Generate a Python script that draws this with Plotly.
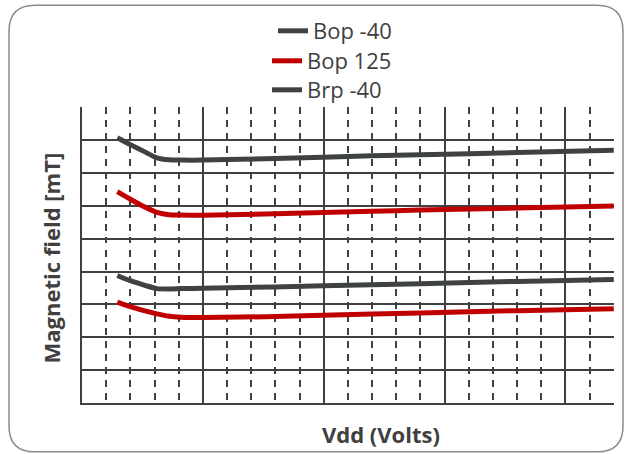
import plotly.graph_objects as go

# ---- data ----
vdd = [1.46, 2.0, 2.6, 3.1, 3.6, 4.1, 5.0, 8.0, 12.0, 14.0, 18.0, 22.0]
bop_m40 = [8.07, 7.86, 7.64, 7.46, 7.40, 7.39, 7.39, 7.44, 7.52, 7.55, 7.62, 7.69]
bop_125 = [6.43, 6.20, 5.96, 5.80, 5.73, 5.72, 5.71, 5.76, 5.83, 5.87, 5.93, 5.99]
brp_m40 = [3.88, 3.72, 3.58, 3.48, 3.47, 3.48, 3.49, 3.53, 3.60, 3.63, 3.70, 3.76]
brp_125 = [3.07, 2.93, 2.80, 2.71, 2.64, 2.61, 2.60, 2.63, 2.71, 2.74, 2.81, 2.87]

series_names = ["Bop -40", "Bop 125", "Brp -40", "Brp 125"]
series_values = [bop_m40, bop_125, brp_m40, brp_125]
series_colors = ["#3f4244", "#c00000", "#3f4244", "#c00000"]
series_legend = ["legend", "legend2", "legend3", None]

x_title = "Vdd (Volts)"
y_title = "Magnetic field [mT]"

# ---- figure ----
W, H = 625, 454
ML, MR, MT, MB = 82, 11, 106, 51
PW, PH = W - ML - MR, H - MT - MB

fig = go.Figure()
for name, vals, col, leg in zip(series_names, series_values, series_colors, series_legend):
    kw = dict(showlegend=False) if leg is None else dict(showlegend=True, legend=leg)
    fig.add_trace(go.Scatter(
        x=vdd, y=vals, name=name, mode="lines",
        line=dict(color=col, width=5, shape="spline", smoothing=0.6), **kw,
    ))

grid_col = "#404040"
text_col = "#404040"


def px(xp):
    return (xp - ML) / PW


def py(yp):
    return (H - MB - yp) / PH


def legend_at(left, top):
    return dict(
        x=px(left), y=py(top), xanchor="left", yanchor="top",
        bgcolor="rgba(0,0,0,0)", font=dict(size=22, color=text_col),
        itemwidth=30,
    )


# rounded outer border (paper coordinates)
L, R, T, B, r = 9, 623, 4, 452, 26
path = (
    f"M {px(L + r)},{py(T)} L {px(R - r)},{py(T)} "
    f"Q {px(R)},{py(T)} {px(R)},{py(T + r)} "
    f"L {px(R)},{py(B - r)} Q {px(R)},{py(B)} {px(R - r)},{py(B)} "
    f"L {px(L + r)},{py(B)} Q {px(L)},{py(B)} {px(L)},{py(B - r)} "
    f"L {px(L)},{py(T + r)} Q {px(L)},{py(T)} {px(L + r)},{py(T)} Z"
)

fig.update_layout(
    width=W, height=H,
    margin=dict(l=ML, r=MR, t=MT, b=MB, pad=0),
    paper_bgcolor="white", plot_bgcolor="white",
    font=dict(family="Open Sans", size=22, color=text_col),
    legend=legend_at(273, 10),
    legend2=legend_at(267, 40),
    legend3=legend_at(267, 69),
    xaxis=dict(
        range=[0, 22.01], showticklabels=False, ticks="",
        showgrid=True, gridcolor=grid_col, gridwidth=2, dtick=5, tick0=0,
        minor=dict(dtick=1, tick0=0, showgrid=True, gridcolor=grid_col,
                   gridwidth=2, griddash="6.5px,6.5px"),
        showline=True, linecolor=grid_col, linewidth=2, zeroline=False,
    ),
    yaxis=dict(
        range=[0, 9.005], showticklabels=False, ticks="",
        showgrid=True, gridcolor=grid_col, gridwidth=2, dtick=1, tick0=0,
        showline=True, linecolor=grid_col, linewidth=2, zeroline=False,
    ),
    shapes=[dict(type="path", xref="paper", yref="paper", path=path,
                 line=dict(color="#8c8c8c", width=1.5), layer="below")],
    annotations=[
        dict(text=f"<b>{x_title}</b>", xref="paper", yref="paper",
             x=px(381), y=py(434), xanchor="center", yanchor="middle",
             showarrow=False, font=dict(size=22, color=text_col)),
        dict(text=f"<b>{y_title}</b>", xref="paper", yref="paper",
             x=px(51), y=py(258), xanchor="center", yanchor="middle",
             textangle=-90, showarrow=False,
             font=dict(size=22, color=text_col)),
    ],
)

fig.write_html(
    "out.html",
    config={"displayModeBar": False},
    post_script="document.body.style.margin='0px';document.body.style.overflow='hidden';",
)
